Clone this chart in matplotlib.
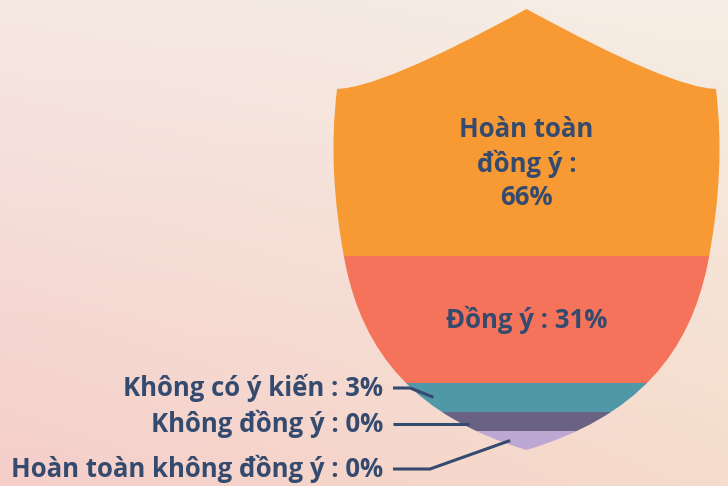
import numpy as np
import matplotlib.pyplot as plt
from matplotlib.path import Path
from matplotlib.patches import PathPatch
from matplotlib.lines import Line2D

# Survey answers, listed from the top of the shield down
categories = ["Hoàn toàn đồng ý", "Đồng ý", "Không có ý kiến",
              "Không đồng ý", "Hoàn toàn không đồng ý"]
values = [66, 31, 3, 0, 0]
colors = ["#f79a34", "#f5735a", "#5097a8", "#6a6282", "#bda8d4"]

TEXT = "#344a6e"
FONT = "Open Sans"
W, H = 728, 486

fig = plt.figure(figsize=(W / 100, H / 100), dpi=100)

# soft watercolor-ish backdrop
bg = fig.add_axes([0, 0, 1, 1])
bg.set_axis_off()
tl = np.array([246, 232, 227]) / 255
tr = np.array([245, 238, 228]) / 255
bl = np.array([245, 206, 202]) / 255
br = np.array([246, 220, 203]) / 255
u = np.linspace(0, 1, 200)[None, :, None]
v = np.linspace(0, 1, 140)[:, None, None]
grad = (1 - v) * ((1 - u) * tl + u * tr) + v * ((1 - u) * bl + u * br)
bg.imshow(grad, aspect="auto", extent=[0, 1, 0, 1], interpolation="bicubic")
bg.set_xlim(0, 1)
bg.set_ylim(0, 1)

# shield axes: x in [-1.05, 1.05], y in [0, 1] (0 = bottom tip, 1 = top peak)
cx_px, half_px, top_px, bot_px = 526.5, 193.5, 9, 450
xr = 1.05
ax = fig.add_axes([(cx_px - xr * half_px) / W, 1 - bot_px / H,
                   2 * xr * half_px / W, (bot_px - top_px) / H])
ax.set_xlim(-xr, xr)
ax.set_ylim(0, 1)
ax.set_axis_off()

# shield outline (left half, mirrored): concave top edge, slightly
# bulging upper side, then a sweeping curve down to the tip
top_ctrl = (-0.757, 0.819)
shoulder = (-0.979, 0.819)
side_ctrl = (-1.031, 0.635)
waist = (-0.938, 0.426)
low_c1 = (-0.845, 0.218)
low_c2 = (-0.5685, 0.075)
left_half = [top_ctrl, shoulder, side_ctrl, waist, low_c1, low_c2, (0, 0)]
right_half = [(-x, y) for x, y in left_half[::-1]][1:] + [(0, 1)]
verts = [(0, 1)] + left_half + right_half + [(0, 1)]
codes = ([Path.MOVETO] + [Path.CURVE3] * 4 + [Path.CURVE4] * 3
         + [Path.CURVE4] * 3 + [Path.CURVE3] * 4 + [Path.CLOSEPOLY])
shield = PathPatch(Path(verts, codes), facecolor="none", edgecolor="none")
ax.add_patch(shield)

# band heights: small answers keep a visible sliver
pad = 5.5
shares = np.array(values, dtype=float) + pad
shares = shares / shares.sum()
tops = 1 - np.concatenate([[0], np.cumsum(shares)[:-1]])
bottoms = tops - shares

bars = ax.barh(bottoms + shares / 2, 2 * xr, left=-xr, height=shares,
               color=colors, linewidth=0)
for b in bars:
    b.set_clip_path(shield)


def side_x(y):
    # left edge of the shield at height y (lower cubic part)
    t = np.linspace(0, 1, 400)
    p = [waist, low_c1, low_c2, (0, 0)]
    xs = ((1 - t) ** 3 * p[0][0] + 3 * (1 - t) ** 2 * t * p[1][0]
          + 3 * (1 - t) * t ** 2 * p[2][0] + t ** 3 * p[3][0])
    ys = ((1 - t) ** 3 * p[0][1] + 3 * (1 - t) ** 2 * t * p[1][1]
          + 3 * (1 - t) * t ** 2 * p[2][1] + t ** 3 * p[3][1])
    return np.interp(y, ys[::-1], xs[::-1])


# labels inside the two big bands
big_text = ["Hoàn toàn\nđồng ý :\n66%", "Đồng ý : 31%"]
for i, txt in enumerate(big_text):
    top = min(tops[i], 0.86)
    ax.text(0, (top + bottoms[i]) / 2, txt, ha="center", va="center",
            fontsize=18.5, fontweight="bold", color=TEXT, family=FONT,
            linespacing=1.3)

# outside labels with leader lines for the thin bands
label_y_px = [388, 424, 469]
elbow_px = [17, 30, 37]
text_right_px = 383
line_start_px = 393
to_px = ax.transData
for k, i in enumerate(range(2, 5)):
    ly = H - label_y_px[k]
    fig.text(text_right_px / W, ly / H, f"{categories[i]} : {values[i]}%",
             ha="right", va="center", fontsize=18.5, fontweight="bold",
             color=TEXT, family=FONT)
    cy = bottoms[i] + shares[i] / 2
    tx, ty = to_px.transform((side_x(cy) + 0.06, cy))
    xs = [line_start_px, line_start_px + elbow_px[k], tx]
    ys = [ly, ly, ty]
    if k == 1:
        xs, ys = [line_start_px, tx], [ly, ly]
    fig.add_artist(Line2D(np.array(xs) / W, np.array(ys) / H, color=TEXT,
                          linewidth=2.2, transform=fig.transFigure,
                          solid_capstyle="butt"))

fig.savefig("out.png", dpi=100)
